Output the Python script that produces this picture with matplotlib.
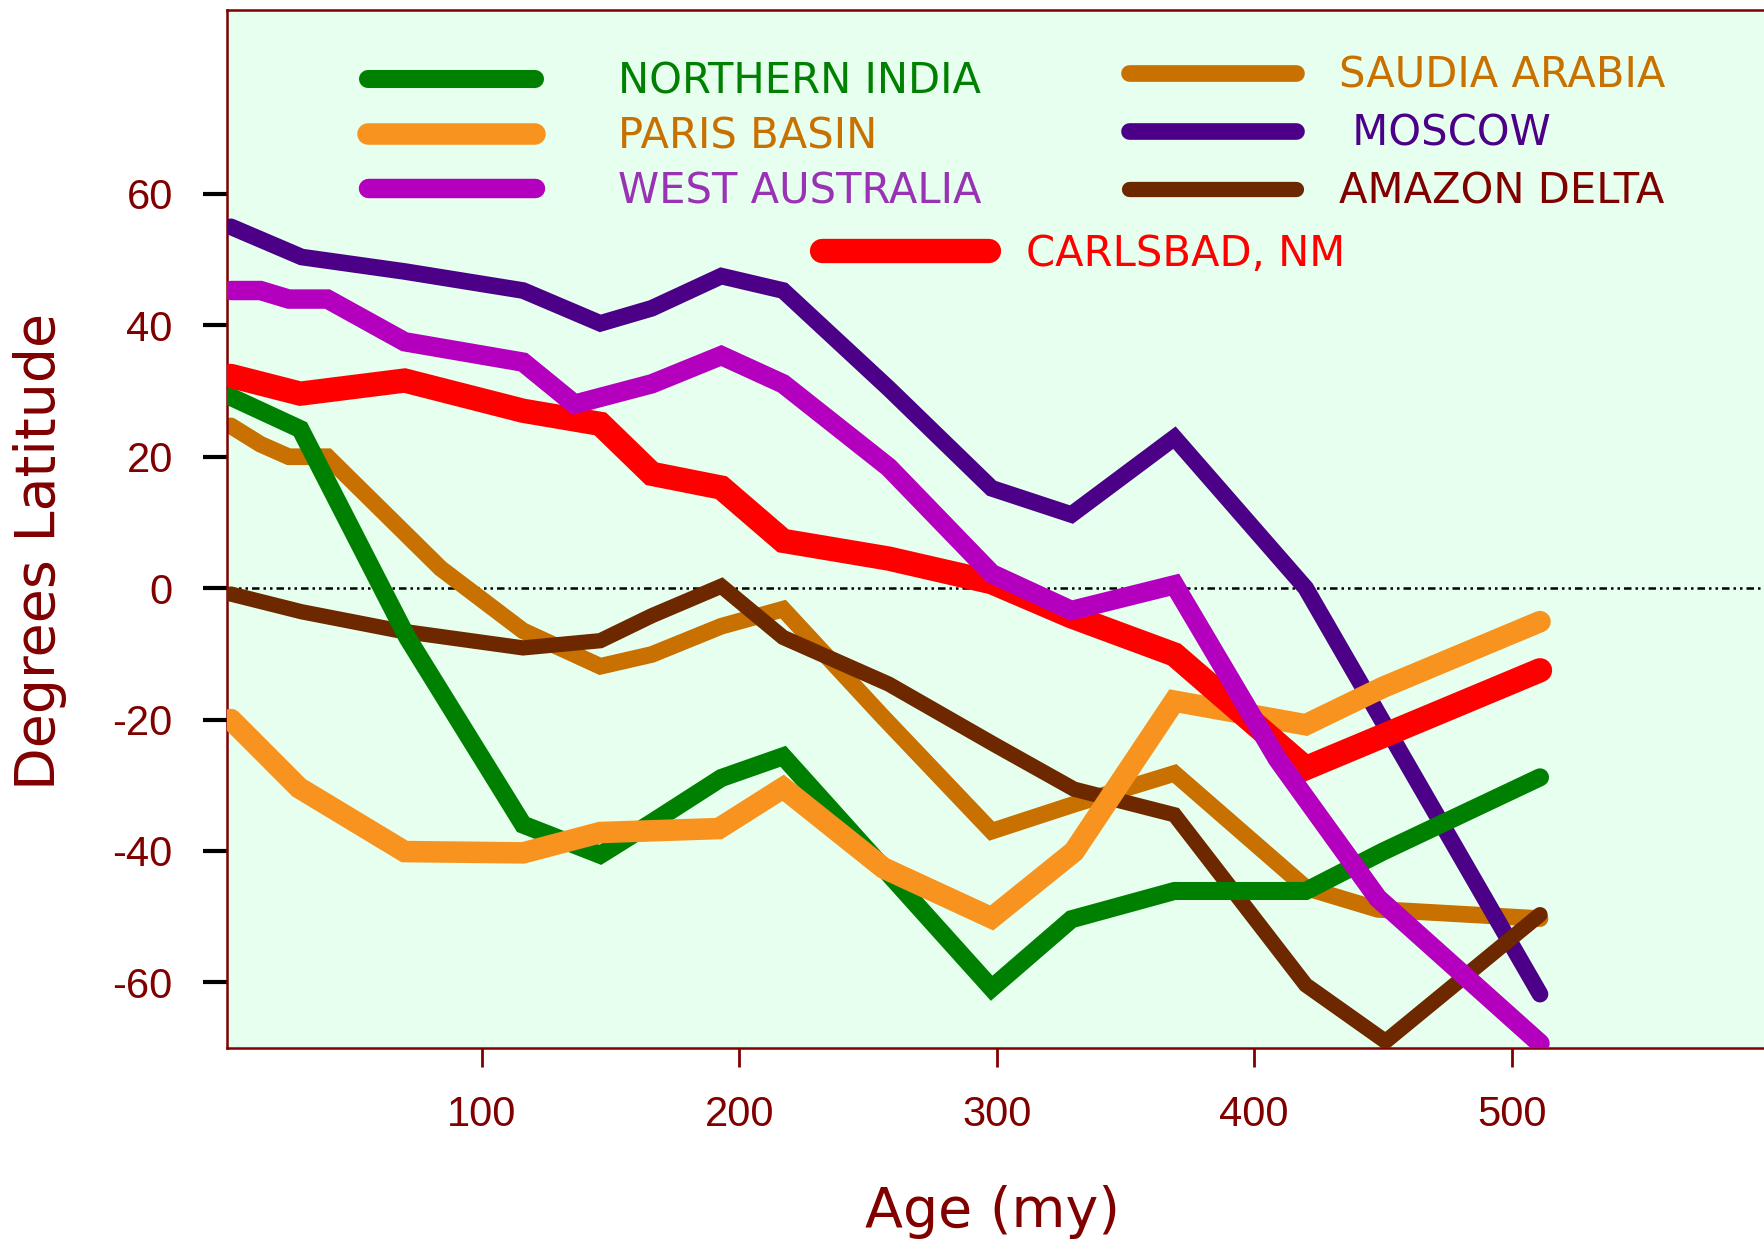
import matplotlib
matplotlib.use("Agg")
import matplotlib.pyplot as plt
from matplotlib import font_manager

# paleolatitude vs age (million years)
age_moscow = [2.5, 30, 70, 116, 146, 166, 193, 217, 258, 298, 329, 369, 420, 511]
lat_moscow = [55.0, 50.4, 48.2, 45.3, 40.3, 42.6, 47.5, 45.3, 30.4, 15.2, 11.2, 22.9, 0.0, -61.8]

age_wa = [2.5, 14, 25, 40, 70, 116, 136, 166, 193, 217, 258, 298, 329, 369, 409, 448, 511]
lat_wa = [45.3, 45.3, 44.0, 44.0, 37.5, 34.4, 28.0, 31.1, 35.4, 31.1, 18.4, 2.2, -3.4, 0.5, -26.0, -47.2, -69.3]

age_carlsbad = [2.5, 29.5, 70, 116, 146, 166, 193, 217, 258, 298, 329, 369, 420, 511]
lat_carlsbad = [32.3, 29.6, 31.6, 27.0, 25.0, 17.4, 15.3, 7.2, 4.5, 0.9, -4.3, -10.1, -27.4, -12.5]

age_india = [2.5, 29.5, 71, 116, 146, 166, 193, 217, 298, 329, 369, 420, 450, 511]
lat_india = [29.1, 24.2, -7.5, -36.0, -40.6, -35.7, -28.9, -25.6, -60.9, -50.4, -46.1, -46.1, -40.1, -28.8]

age_paris = [2.5, 29, 70, 116, 146, 192, 217, 256, 298, 330, 369, 420, 450, 511]
lat_paris = [-20.0, -30.4, -40.1, -40.3, -37.2, -36.6, -30.4, -42.6, -50.2, -40.1, -17.2, -20.8, -15.1, -5.1]

age_saudi = [2.5, 14, 25, 40, 84, 116, 146, 166, 193, 217, 256, 298, 330, 369, 420, 448, 511]
lat_saudi = [24.7, 21.9, 20.0, 20.0, 3.0, -6.5, -11.9, -10.1, -5.8, -3.2, -19.7, -37.0, -32.9, -28.2, -45.6, -48.9, -50.3]

age_amazon = [2.5, 30, 68, 116, 146, 166, 193, 217, 258, 299, 330, 369, 420, 451, 511]
lat_amazon = [-0.9, -3.6, -6.5, -9.1, -8.0, -4.2, 0.3, -7.5, -14.6, -23.8, -30.6, -34.5, -60.4, -69.0, -49.7]

yticks = [-60, -40, -20, 0, 20, 40, 60]
xticks = [100, 200, 300, 400, 500]

dark_red = "#800000"
avail = {f.name for f in font_manager.fontManager.ttflist}
tick_font = "Liberation Sans Narrow" if "Liberation Sans Narrow" in avail else "Liberation Sans"
tick_size = 34 if tick_font == "Liberation Sans Narrow" else 30

plt.rcParams["axes.unicode_minus"] = False
plt.rcParams["font.family"] = "DejaVu Sans"

fig = plt.figure(figsize=(17.64, 12.59), dpi=100)
ax = fig.add_axes([227 / 1764, 1 - 1048 / 1259, 1 - 227 / 1764, 1038 / 1259])
ax.set_facecolor("#E6FFEE")

ax.axhline(0, color="black", lw=1.8, linestyle=(0, (3, 1.6, 1, 1.6, 1, 1.6)), zorder=1)

kw = dict(solid_capstyle="round", solid_joinstyle="miter")
l_saudi, = ax.plot(age_saudi, lat_saudi, color="#C87000", lw=12.0, zorder=2, **kw)
l_moscow, = ax.plot(age_moscow, lat_moscow, color="#4B0087", lw=12.0, zorder=3, **kw)
l_amazon, = ax.plot(age_amazon, lat_amazon, color="#6E2800", lw=11.0, zorder=4, **kw)
l_india, = ax.plot(age_india, lat_india, color="#008000", lw=13.0, zorder=5, **kw)
l_paris, = ax.plot(age_paris, lat_paris, color="#F7931E", lw=15.5, zorder=6, **kw)
l_carlsbad, = ax.plot(age_carlsbad, lat_carlsbad, color="#FF0000", lw=17.5, zorder=7, **kw)
l_wa, = ax.plot(age_wa, lat_wa, color="#B400BE", lw=14.0, zorder=8, **kw)

ax.set_xlim(1, 598)
ax.set_ylim(-70, 88)

ax.set_yticks(yticks)
ax.set_yticklabels([str(v) for v in yticks])
ax.set_xticks(xticks)
ax.set_xticklabels([str(v) for v in xticks])
ax.tick_params(axis="y", colors="black", labelcolor=dark_red, length=17, width=3, pad=22,
               labelsize=tick_size, direction="out")
ax.tick_params(axis="x", colors=dark_red, labelcolor=dark_red, length=14, width=2, pad=20,
               labelsize=tick_size, direction="out")
for lab in ax.get_xticklabels() + ax.get_yticklabels():
    lab.set_fontfamily(tick_font)

for side in ["left", "bottom", "top"]:
    ax.spines[side].set_color(dark_red)
    ax.spines[side].set_linewidth(1.8)
ax.spines["right"].set_visible(False)

ax.set_xlabel("Age (my)", fontsize=40, color=dark_red)
ax.set_ylabel("Degrees Latitude", fontsize=40, color=dark_red)
ax.xaxis.set_label_coords(0.498, -0.132, transform=ax.transAxes)
ax.yaxis.set_label_coords(-0.104, 0.478, transform=ax.transAxes)

leg_kw = dict(loc="upper left", bbox_transform=fig.transFigure, frameon=False, fontsize=30,
              handlelength=4.0, borderpad=0, borderaxespad=0)

leg1 = ax.legend([l_india, l_paris, l_wa], ["NORTHERN INDIA", "PARIS BASIN", "WEST AUSTRALIA"],
                 bbox_to_anchor=(368 / 1764, 1 - 61 / 1259), handletextpad=2.0,
                 labelspacing=0.30, **leg_kw)
for t, c in zip(leg1.get_texts(), ["#008000", "#C87000", "#9932B4"]):
    t.set_color(c)
ax.add_artist(leg1)

leg2 = ax.legend([l_saudi, l_moscow, l_amazon], ["SAUDIA ARABIA", " MOSCOW", "AMAZON DELTA"],
                 bbox_to_anchor=(1129 / 1764, 1 - 55 / 1259), handletextpad=1.05,
                 labelspacing=0.38, **leg_kw)
for t, c in zip(leg2.get_texts(), ["#C87000", "#4B0087", dark_red]):
    t.set_color(c)
ax.add_artist(leg2)

leg3 = ax.legend([l_carlsbad], ["CARLSBAD, NM"],
                 bbox_to_anchor=(822 / 1764, 1 - 233 / 1259), handletextpad=0.9, **leg_kw)
leg3.get_texts()[0].set_color("#FF0000")

fig.savefig("out.png", dpi=100)
